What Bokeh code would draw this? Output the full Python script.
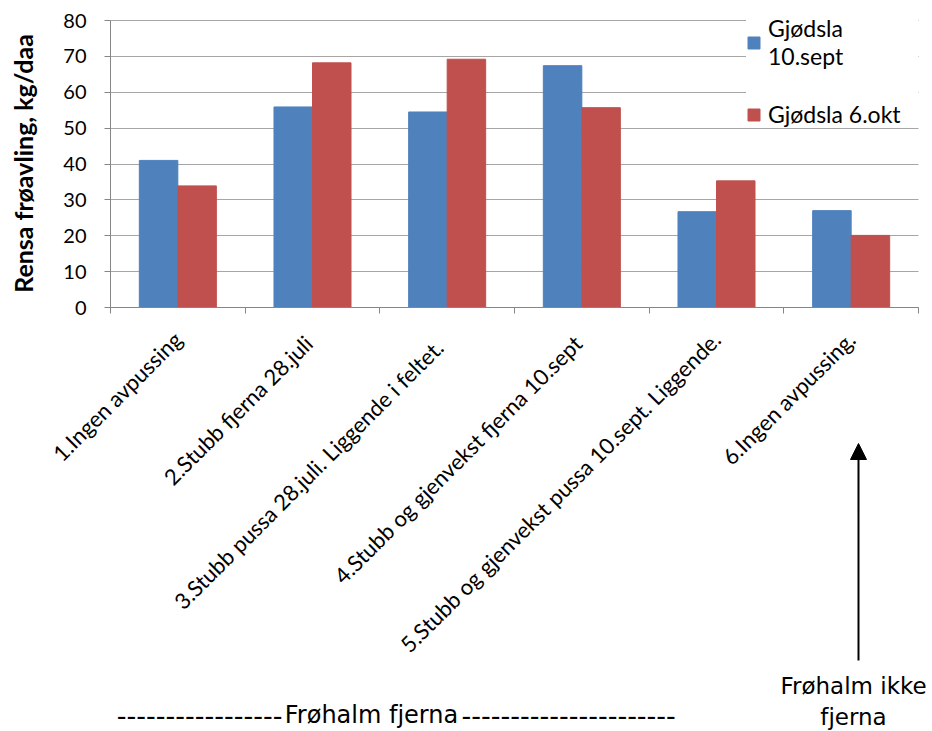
from math import pi
from bokeh.plotting import figure
from bokeh.models import (Range1d, FixedTicker, Legend, LegendItem, Label,
                          Arrow, NormalHead, ColumnDataSource, Grid)
from bokeh.embed import file_html
from bokeh.resources import INLINE

# ---------------- data ----------------
categories = [
    "1.Ingen avpussing",
    "2.Stubb fjerna  28.juli",
    "3.Stubb pussa   28.juli. Liggende i feltet.",
    "4.Stubb og gjenvekst  fjerna 10.sept",
    "5.Stubb og gjenvekst pussa 10.sept. Liggende.",
    "6.Ingen avpussing.",
]
gjodsla_10sept = [41.0, 55.9, 54.5, 67.4, 26.7, 27.0]
gjodsla_6okt = [33.9, 68.2, 69.2, 55.7, 35.3, 20.1]
series_labels = ["Gjødsla\n10.sept", "Gjødsla 6.okt"]
y_ticks = [0, 10, 20, 30, 40, 50, 60, 70, 80]
y_label = "Rensa frøavling, kg/daa"
note_left = ["-----------------", "Frøhalm fjerna", "----------------------"]
note_right = "Frøhalm ikke\nfjerna"

BLUE = "#4F81BD"
RED = "#C0504D"
GRID = "#a6a6a6"
AXIS = "#868686"
FONT = "Lato"
NOTE_FONT = "DejaVu Sans"

# ---------------- layout constants (pixels) ----------------
W, H = 932, 731
LEFT, TOP, RIGHT = 110, 20, 14   # margins of the value area inside the canvas
VALUE_W = W - LEFT - RIGHT
VALUE_H = 287
BELOW_H = H - TOP - VALUE_H
n = len(categories)
ppu = VALUE_H / (y_ticks[-1] - y_ticks[0])      # pixels per value unit
ppc = VALUE_W / n                               # pixels per category
x_lo, x_hi = -0.5, n - 0.5

bar_w = 0.286
idx = list(range(n))
src = ColumnDataSource(dict(
    x_blue=[i - bar_w / 2 for i in idx],
    x_red=[i + bar_w / 2 for i in idx],
    blue=gjodsla_10sept,
    red=gjodsla_6okt,
))

p = figure(frame_width=W, frame_height=H,
           x_range=Range1d(x_lo - LEFT / ppc, x_hi + RIGHT / ppc),
           y_range=Range1d(y_ticks[0] - BELOW_H / ppu, y_ticks[-1] + TOP / ppu),
           output_backend="svg", toolbar_location=None,
           min_border=0, min_border_left=0, min_border_right=0,
           min_border_top=0, min_border_bottom=0)
p.outline_line_color = None
p.background_fill_color = "white"
p.border_fill_color = "white"

# gridlines limited to the value area
p.xgrid.grid_line_color = None
ygrid = p.ygrid[0]
if "cross_bounds" in Grid.properties():
    ygrid.cross_bounds = (x_lo, x_hi)
    ygrid.bounds = (y_ticks[0], y_ticks[-1])
    ygrid.ticker = FixedTicker(ticks=y_ticks)
    ygrid.grid_line_color = GRID
    ygrid.grid_line_width = 1
else:
    ygrid.grid_line_color = None
    p.segment(x0=[x_lo] * len(y_ticks), x1=[x_hi] * len(y_ticks),
              y0=y_ticks, y1=y_ticks, line_color=GRID, line_width=1)

r_blue = p.vbar(x="x_blue", top="blue", bottom=0, width=bar_w, source=src,
                fill_color=BLUE, line_color=BLUE)
r_red = p.vbar(x="x_red", top="red", bottom=0, width=bar_w, source=src,
               fill_color=RED, line_color=RED)

# x axis, drawn at value 0
xa = p.xaxis[0]
xa.fixed_location = 0
xa.bounds = (x_lo, x_hi)
xa.ticker = FixedTicker(ticks=idx, minor_ticks=[i - 0.5 for i in range(n + 1)])
xa.major_label_overrides = {i: c for i, c in zip(idx, categories)}
xa.major_label_orientation = pi / 4
xa.major_tick_line_color = None
xa.minor_tick_line_color = AXIS
xa.minor_tick_out = 6
xa.minor_tick_in = 0
xa.axis_line_color = AXIS
xa.major_label_text_font = FONT
xa.major_label_text_font_size = "22px"
xa.major_label_text_color = "black"
xa.major_label_standoff = 22

# y axis, drawn at the left edge of the value area
ya = p.yaxis[0]
ya.fixed_location = x_lo
ya.bounds = (y_ticks[0], y_ticks[-1])
ya.ticker = FixedTicker(ticks=y_ticks)
ya.major_tick_out = 6
ya.major_tick_in = 0
ya.minor_tick_line_color = None
ya.major_tick_line_color = AXIS
ya.axis_line_color = AXIS
ya.major_label_text_font = FONT
ya.major_label_text_font_size = "20px"
ya.major_label_text_color = "black"
ya.major_label_standoff = 18

# y axis title
p.add_layout(Label(x=22, y=H - 163, x_units="screen", y_units="screen",
                   text=y_label, angle=pi / 2, text_align="center",
                   text_baseline="middle", text_font=FONT,
                   text_font_style="bold", text_font_size="25px",
                   text_color="black"))

legend = Legend(items=[LegendItem(label=series_labels[0], renderers=[r_blue]),
                       LegendItem(label=series_labels[1], renderers=[r_red])],
                location="top_right")
legend.background_fill_color = "white"
legend.background_fill_alpha = 1.0
legend.border_line_color = None
legend.label_text_font = FONT
legend.label_text_font_size = "23px"
legend.label_text_color = "black"
legend.label_text_line_height = 1.35
legend.label_width = 150
legend.glyph_width = 15
legend.glyph_height = 15
legend.label_standoff = 7
legend.padding = 10
legend.spacing = 30
legend.margin = 14
p.add_layout(legend)

# bottom notes (screen units, from the canvas' bottom-left corner)
p.add_layout(Label(x=282, y=17, x_units="screen", y_units="screen",
                   text=note_left[0], text_align="right", text_baseline="middle",
                   text_font=NOTE_FONT, text_font_size="27px", text_color="black"))
p.add_layout(Label(x=371, y=17, x_units="screen", y_units="screen",
                   text=note_left[1], text_align="center", text_baseline="middle",
                   text_font=NOTE_FONT, text_font_size="24px", text_color="black"))
p.add_layout(Label(x=461, y=17, x_units="screen", y_units="screen",
                   text=note_left[2], text_align="left", text_baseline="middle",
                   text_font=NOTE_FONT, text_font_size="27px", text_color="black"))
p.add_layout(Label(x=853, y=30, x_units="screen", y_units="screen",
                   text=note_right, text_align="center", text_baseline="middle",
                   text_font=NOTE_FONT, text_font_size="23px", text_color="black",
                   text_line_height=1.2))
p.add_layout(Arrow(end=NormalHead(size=16, fill_color="black", line_color="black"),
                   x_start=858, y_start=71, x_end=858, y_end=288,
                   start_units="screen", end_units="screen",
                   line_color="black", line_width=2))

open("out.html", "w").write(file_html(p, INLINE))
